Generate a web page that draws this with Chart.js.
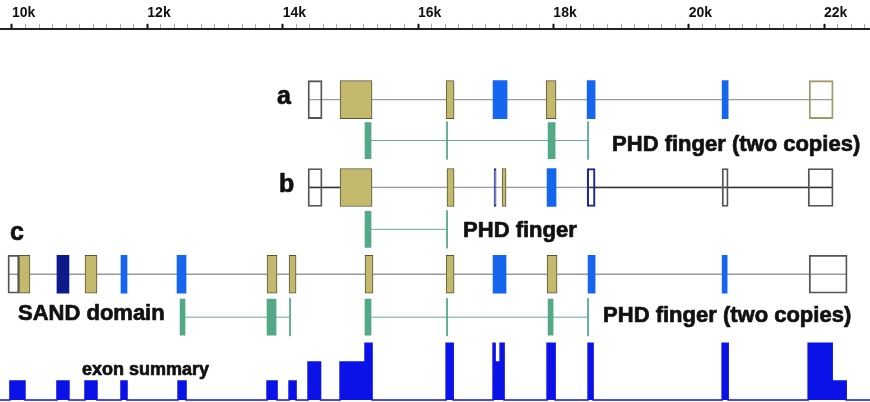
<!DOCTYPE html>
<html>
<head>
<meta charset="utf-8">
<script src="https://cdn.jsdelivr.net/npm/chart.js@4.4.0/dist/chart.umd.min.js"></script>
<style>
  html, body { margin: 0; padding: 0; background: #fff; }
  #wrap { width: 870px; height: 402px; }
</style>
</head>
<body>
<div id="wrap"><canvas id="chart" width="870" height="402"></canvas></div>
<script>
/* Gene model: transcripts a, b, c + protein domains + exon summary.
   All coordinates are genomic positions in bp. */

const axisLabels = [10000, 12000, 14000, 16000, 18000, 20000, 22000];

// exons per transcript: [start, end, kind]
const exonsA = [
  [14375, 14582, 'utr'], [14848, 15321, 'olive'], [16415, 16533, 'olive'],
  [17109, 17316, 'blue'], [17893, 18040, 'olive'], [18499, 18617, 'blue'],
  [20494, 20583, 'blue'], [21780, 22134, 'utrOlive'],
];
const exonsB = [
  [14375, 14582, 'utr'], [14848, 15321, 'olive'], [16429, 16533, 'olive'],
  [17124, 17154, 'navyOpen'], [17242, 17301, 'olive'], [17907, 18040, 'blue'],
  [18499, 18617, 'navyOpen'], [20494, 20583, 'utr'], [21765, 22134, 'utr'],
];
const exonsC = [
  [9941, 10103, 'utr'], [10103, 10266, 'olive'], [10665, 10842, 'navy'],
  [11079, 11256, 'olive'], [11611, 11700, 'blue'], [12439, 12572, 'blue'],
  [13769, 13917, 'olive'], [14094, 14198, 'olive'], [15217, 15335, 'olive'],
  [16415, 16533, 'olive'], [17109, 17301, 'blue'], [17907, 18055, 'olive'],
  [18513, 18617, 'blue'], [20494, 20568, 'blue'], [21780, 22341, 'utr'],
];

// introns (span of each transcript)
const intronA = [[14375, 22134]];
const intronB = [[14375, 22134]];
const intronBDark = [[14375, 14848], [18499, 22134]];
const intronC = [[9941, 22341]];

// protein domains: parts [start, end] (start == end -> thin split mark)
const phdA  = [[15217, 15306], [16429, 16429], [17922, 18026], [18513, 18513]];
const phdB  = [[15217, 15306], [16429, 16429]];
const sandC = [[12484, 12557], [13769, 13902], [14109, 14109]];
const phdC  = [[15217, 15306], [16429, 16429], [17922, 17996], [18513, 18513]];

// exon summary: [start, end, number of transcripts]
const exonSummary = [
  [9970, 10192, 1], [10665, 10842, 1], [11079, 11256, 1], [11611, 11700, 1],
  [12454, 12572, 1], [13769, 13917, 1], [14094, 14198, 1],
  [14375, 14560, 2], [14848, 15217, 2], [15217, 15321, 3], [16415, 16520, 3],
  [17109, 17139, 3], [17139, 17213, 2], [17213, 17272, 3],
  [17907, 18026, 3], [18513, 18587, 3], [20494, 20583, 3],
  [21765, 22120, 3], [22120, 22327, 1],
];

/* ── layout (pixel rows on a reversed y scale) ───────────────────── */
const X_MIN = 9823, X_MAX = 22679;
const TOP = 28, BOTTOM = 402;
const exonY   = { a: 99,  b: 187, c: 274 };
const domainY = { a: 140, b: 229, c: 317 };
const EXON_H = 38, DOMAIN_H = 36;
const SUM_BASE = 400, SUM_UNIT = 19;

const COLORS = {
  olive: '#c3b96c', oliveEdge: '#55533a',
  blue: '#1565ee', navy: '#0d1a8a',
  teal: '#52a887', tealLine: '#6aa997',
  intron: '#9a9a9a', intronDark: '#333',
  summary: '#0b12e8',
};

const transcripts = [['a', exonsA], ['b', exonsB], ['c', exonsC]];

function exonBars(kind) {
  const out = [];
  transcripts.forEach(([row, list]) => {
    list.filter(e => e[2] === kind).forEach(e => out.push({ x: [e[0], e[1]], y: exonY[row] }));
  });
  return out;
}

const domains = [['a', phdA], ['b', phdB], ['c', sandC], ['c', phdC]];

function domainBlocks() {
  const out = [];
  domains.forEach(([row, parts]) => {
    parts.filter(p => p[1] > p[0]).forEach(p => out.push({ x: [p[0], p[1]], y: domainY[row] }));
  });
  return out;
}
function domainMarks() {
  const out = [];
  domains.forEach(([row, parts]) => {
    parts.filter(p => p[1] === p[0]).forEach(p => {
      out.push({ x: p[0], y: domainY[row] - DOMAIN_H / 2 - 1 },
               { x: p[0], y: domainY[row] + DOMAIN_H / 2 + 1 },
               { x: p[0], y: null });
    });
  });
  return out;
}
function domainLinks() {
  const out = [];
  domains.forEach(([row, parts]) => {
    const lo = Math.min(...parts.map(p => p[1]));
    const hi = Math.max(...parts.map(p => p[0]));
    out.push({ x: lo, y: domainY[row] }, { x: hi, y: domainY[row] }, { x: hi, y: null });
  });
  return out;
}
function intronLines(rowList) {
  const out = [];
  rowList.forEach(([row, spans]) => spans.forEach(s => {
    out.push({ x: s[0], y: exonY[row] }, { x: s[1], y: exonY[row] }, { x: s[1], y: null });
  }));
  return out;
}
function summaryPoints() {
  const pts = [{ x: X_MIN, y: 0 }];
  exonSummary.forEach((s, i) => {
    pts.push({ x: s[0], y: s[2] });
    const next = exonSummary[i + 1];
    if (!next || next[0] !== s[1]) pts.push({ x: s[1], y: 0 });
  });
  pts.push({ x: X_MAX, y: 0 });
  return pts;
}

const barBase = { type: 'bar', indexAxis: 'y', stack: 'g', borderSkipped: false, yAxisID: 'y' };
const lineBase = { type: 'line', indexAxis: 'x', pointRadius: 0, spanGaps: false, fill: false, yAxisID: 'y' };

const LABELS = [
  { text: 'a', x: 13917, y: 96, size: 25 },
  { text: 'b', x: 13946, y: 185, size: 25 },
  { text: 'c', x: 9970, y: 233, size: 25 },
  { text: 'PHD finger (two copies)', x: 18868, y: 144, size: 22 },
  { text: 'PHD finger', x: 16666, y: 231, size: 22 },
  { text: 'SAND domain', x: 10089, y: 314, size: 22 },
  { text: 'PHD finger (two copies)', x: 18735, y: 316, size: 22 },
  { text: 'exon summary', x: 11035, y: 370, size: 18 },
];

const textPlugin = {
  id: 'trackText',
  afterDatasetsDraw(chart) {
    const { ctx, scales: { x, y } } = chart;
    ctx.save();
    ctx.fillStyle = '#111';
    ctx.strokeStyle = '#111';
    ctx.lineWidth = 0.7;
    ctx.lineJoin = 'round';
    ctx.textBaseline = 'middle';
    ctx.textAlign = 'left';
    LABELS.forEach(l => {
      ctx.font = `bold ${l.size}px "Liberation Sans", Arial, sans-serif`;
      const px = x.getPixelForValue(l.x), py = y.getPixelForValue(l.y);
      ctx.fillText(l.text, px, py);
      ctx.strokeText(l.text, px, py);
    });
    ctx.restore();
  },
};

new Chart(document.getElementById('chart'), {
  type: 'bar',
  data: {
    datasets: [
      { ...barBase, data: exonBars('olive'), backgroundColor: COLORS.olive, borderColor: COLORS.oliveEdge, borderWidth: 1, barThickness: EXON_H },
      { ...barBase, data: exonBars('blue'), backgroundColor: COLORS.blue, borderWidth: 0, barThickness: EXON_H },
      { ...barBase, data: exonBars('navy'), backgroundColor: COLORS.navy, borderWidth: 0, barThickness: EXON_H },
      { ...barBase, data: exonBars('navyOpen'), backgroundColor: 'rgba(0,0,0,0)', borderColor: '#1c2590', borderWidth: 1.5, barThickness: EXON_H },
      { ...barBase, data: exonBars('utr'), backgroundColor: 'rgba(0,0,0,0)', borderColor: '#555', borderWidth: 1.2, barThickness: EXON_H },
      { ...barBase, data: exonBars('utrOlive'), backgroundColor: 'rgba(0,0,0,0)', borderColor: '#9c9a6a', borderWidth: 1.2, barThickness: EXON_H },
      { ...barBase, data: domainBlocks(), backgroundColor: COLORS.teal, borderWidth: 0, barThickness: DOMAIN_H },
      { ...lineBase, data: domainMarks(), borderColor: COLORS.teal, borderWidth: 1 },
      { ...lineBase, data: domainLinks(), borderColor: COLORS.tealLine, borderWidth: 1 },
      { ...lineBase, data: intronLines([['b', intronBDark]]), borderColor: COLORS.intronDark, borderWidth: 1.5 },
      { ...lineBase, data: intronLines([['a', intronA], ['b', intronB], ['c', intronC]]), borderColor: COLORS.intron, borderWidth: 1.3 },
      { ...lineBase, data: summaryPoints(), yAxisID: 'yS', stepped: true, borderColor: COLORS.summary, backgroundColor: COLORS.summary, borderWidth: 1.5, fill: 'origin' },
    ],
  },
  options: {
    responsive: false,
    animation: false,
    events: [],
    layout: { padding: { top: 3, left: 0, right: 0, bottom: 0 } },
    plugins: { legend: { display: false }, tooltip: { enabled: false } },
    scales: {
      x: {
        type: 'linear', position: 'top', min: X_MIN, max: X_MAX, stacked: false, offset: false,
        grid: {
          offset: false, drawOnChartArea: false, tickLength: 5,
          tickColor: c => (c.tick && c.tick.value % 2000 === 0 ? '#111' : '#aaa'),
          tickWidth: c => (c.tick && c.tick.value % 2000 === 0 ? 2 : 1),
        },
        border: { display: true, color: '#222', width: 2 },
        ticks: {
          stepSize: 200, autoSkip: false, maxRotation: 0, minRotation: 0, includeBounds: false,
          align: 'start', padding: 2, color: '#111',
          font: { family: '"Liberation Sans", Arial, sans-serif', size: 14, weight: 'bold' },
          callback: v => (axisLabels.includes(v) ? (v / 1000) + 'k' : ''),
        },
      },
      y: { type: 'linear', display: false, reverse: true, min: TOP, max: BOTTOM, offset: false, grid: { offset: false } },
      yS: {
        type: 'linear', display: false, offset: false, grid: { offset: false },
        min: -(BOTTOM - SUM_BASE) / SUM_UNIT,
        max: (SUM_BASE - TOP) / SUM_UNIT,
      },
    },
  },
  plugins: [textPlugin],
});
</script>
</body>
</html>
